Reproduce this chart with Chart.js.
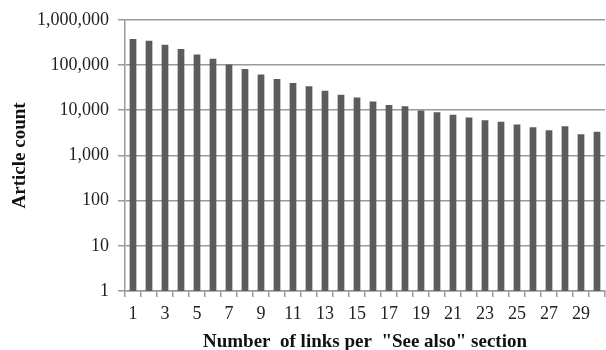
<!DOCTYPE html>
<html>
<head>
<meta charset="utf-8">
<script src="https://cdn.jsdelivr.net/npm/chart.js@4/dist/chart.umd.min.js"></script>
<style>
    html, body { margin: 0; padding: 0; background: #fff; }
    #wrap { width: 606px; height: 350px; position: relative; }
</style>
</head>
<body>
<div id="wrap"><canvas id="chart"></canvas></div>
<script>
const linkCounts = ['1', '2', '3', '4', '5', '6', '7', '8', '9', '10', '11', '12', '13', '14', '15',
    '16', '17', '18', '19', '20', '21', '22', '23', '24', '25', '26', '27', '28', '29', '30'];
const articleCounts = [376000, 345000, 282000, 227000, 170000, 137000, 102000, 82000, 62000, 48700,
    39800, 33700, 27100, 22100, 19000, 15500, 13100, 12200, 9850, 9040,
    7890, 6910, 6030, 5540, 4840, 4170, 3580, 4440, 2920, 3340];
const yTicks = [1, 10, 100, 1000, 10000, 100000, 1000000];

const gridGray = '#9a9a9a';
const serif = '"Liberation Serif", "Times New Roman", serif';

new Chart(document.getElementById('chart'), {
    type: 'bar',
    data: {
        labels: linkCounts,
        datasets: [{
            data: articleCounts,
            backgroundColor: '#5c5c5c',
            barPercentage: 0.42,
            categoryPercentage: 1,
        }],
    },
    options: {
        responsive: true,
        maintainAspectRatio: false,
        animation: false,
        layout: { padding: { top: 10, right: 1, left: 0, bottom: 0 } },
        plugins: { legend: { display: false }, tooltip: { enabled: false } },
        scales: {
            x: {
                offset: true,
                grid: { offset: true, drawOnChartArea: false, color: gridGray, tickLength: 6, lineWidth: 1.5 },
                border: { color: gridGray, width: 1.5 },
                ticks: {
                    autoSkip: false,
                    maxRotation: 0,
                    padding: 6,
                    color: '#222',
                    font: { family: serif, size: 18 },
                    callback: (value, index) => (index % 2 === 0 ? linkCounts[index] : ''),
                },
                title: {
                    display: true,
                    text: 'Number  of links per  "See also" section',
                    color: '#111',
                    font: { family: serif, size: 19, weight: 'bold', lineHeight: 0.8 },
                    padding: { top: 0, bottom: 0 },
                },
                afterFit: (scale) => { scale.height = 59; },
            },
            y: {
                type: 'logarithmic',
                min: 1,
                max: 1000000,
                afterBuildTicks: (scale) => { scale.ticks = yTicks.map((value) => ({ value })); },
                grid: { color: gridGray, tickLength: 7, lineWidth: 1.5 },
                border: { color: gridGray, width: 1.5 },
                ticks: {
                    padding: 9,
                    color: '#222',
                    font: { family: serif, size: 18 },
                    callback: (value) => Number(value).toLocaleString('en-US'),
                },
                title: {
                    display: true,
                    text: 'Article count',
                    color: '#111',
                    font: { family: serif, size: 19, weight: 'bold', lineHeight: 0.8 },
                    padding: { top: 12, bottom: 0 },
                },
                afterFit: (scale) => { scale.width = 125; },
            },
        },
    },
});
</script>
</body>
</html>
